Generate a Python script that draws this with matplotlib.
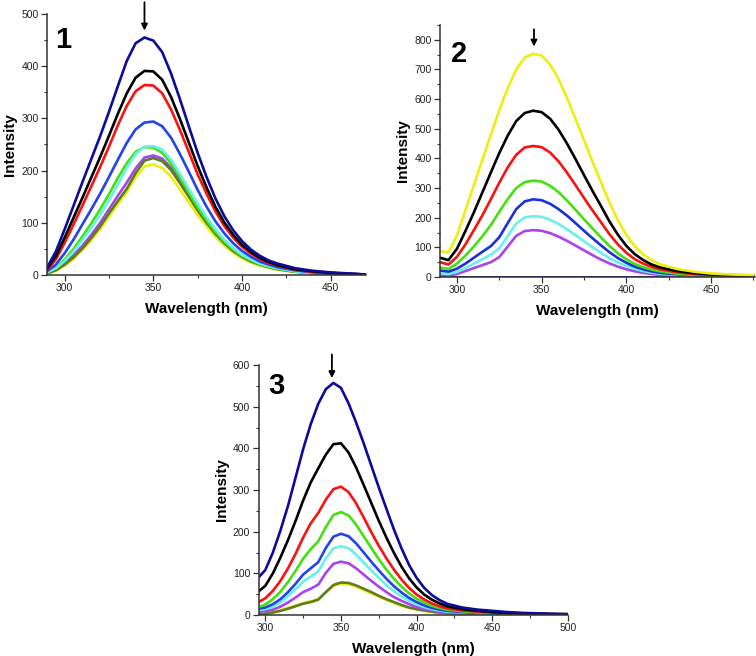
import matplotlib
matplotlib.use("Agg")
import matplotlib.pyplot as plt
from matplotlib.ticker import MultipleLocator

plt.rcParams['font.family'] = ['Liberation Sans', 'DejaVu Sans']

# ---------------- Panel 1 data ----------------
wl1 = [290, 295, 300, 305, 310, 315, 320, 325, 330, 335, 340, 345, 350, 355, 360,
       365, 370, 375, 380, 385, 390, 395, 400, 405, 410, 415, 420, 430, 440, 450, 460, 470]
p1_navy = [14, 45, 88, 133, 178, 222, 266, 313, 362, 410, 444, 455, 449, 427, 386,
           337, 285, 234, 188, 147, 113, 86, 65, 49, 37, 28, 22, 13, 8, 5, 3, 1]
p1_black = [12, 36, 72, 110, 148, 187, 226, 267, 309, 348, 378, 391, 390, 374, 341,
            299, 254, 209, 168, 131, 101, 77, 58, 44, 33, 25, 19, 11, 7, 4, 2, 1]
p1_red = [9, 30, 62, 97, 133, 170, 207, 246, 287, 324, 352, 364, 363, 348, 317,
          278, 236, 193, 156, 122, 94, 72, 54, 41, 31, 23, 18, 10, 6, 4, 2, 1]
p1_blue = [7, 20, 42, 68, 97, 126, 156, 188, 221, 253, 279, 292, 294, 285, 263,
           232, 198, 163, 131, 103, 80, 61, 46, 35, 26, 20, 15, 9, 5, 3, 2, 1]
p1_green = [5, 14, 30, 50, 74, 99, 126, 155, 186, 214, 236, 245, 244, 234, 214,
            187, 158, 130, 105, 83, 64, 49, 37, 28, 21, 16, 12, 7, 4, 3, 2, 1]
p1_cyan = [5, 13, 27, 45, 67, 90, 115, 143, 174, 205, 232, 246, 247, 240, 221,
           194, 165, 137, 111, 88, 68, 52, 39, 30, 22, 17, 13, 7, 4, 3, 2, 1]
p1_purple = [4, 11, 23, 38, 56, 77, 100, 126, 152, 177, 204, 225, 229, 223, 206,
             181, 154, 128, 104, 82, 64, 49, 37, 28, 21, 16, 12, 7, 4, 2, 1, 1]
p1_olive = [3, 9, 20, 34, 51, 71, 93, 118, 142, 165, 195, 219, 224, 218, 201,
            176, 150, 124, 100, 79, 61, 46, 35, 26, 20, 15, 11, 6, 4, 2, 1, 1]
p1_yellow = [2, 8, 18, 31, 48, 67, 88, 112, 136, 159, 187, 208, 212, 205, 188,
             164, 139, 115, 93, 73, 56, 43, 32, 24, 18, 14, 10, 6, 3, 2, 1, 1]

# ---------------- Panel 2 data ----------------
wl2 = [290, 295, 300, 305, 310, 315, 320, 325, 330, 335, 340, 345, 350, 355, 360,
       365, 370, 375, 380, 385, 390, 395, 400, 405, 410, 415, 420, 430, 440, 450, 460, 470, 475]
p2_yellow = [88, 82, 140, 225, 310, 395, 480, 562, 637, 700, 740, 753, 747, 717, 668,
             604, 534, 462, 390, 320, 252, 192, 142, 104, 76, 57, 43, 27, 18, 12, 9, 7, 6]
p2_black = [65, 57, 95, 155, 218, 285, 352, 418, 477, 526, 553, 561, 556, 534, 497,
            450, 398, 344, 291, 240, 188, 143, 105, 77, 57, 42, 32, 20, 13, 9, 7, 5, 5]
p2_red = [50, 42, 68, 110, 158, 208, 262, 318, 370, 412, 437, 442, 438, 420, 390,
          352, 310, 267, 225, 185, 145, 110, 82, 60, 45, 34, 26, 16, 10, 7, 5, 4, 4]
p2_green = [32, 27, 45, 72, 103, 137, 175, 220, 263, 300, 320, 325, 322, 308, 286,
            258, 227, 195, 164, 134, 105, 80, 60, 44, 33, 25, 19, 11, 7, 5, 4, 3, 3]
p2_blue = [22, 18, 28, 45, 65, 85, 104, 134, 182, 229, 255, 262, 259, 247, 229,
           207, 182, 156, 131, 107, 84, 64, 48, 35, 26, 19, 14, 9, 6, 4, 3, 2, 2]
p2_cyan = [13, 10, 17, 30, 45, 60, 75, 97, 138, 180, 201, 205, 203, 193, 179,
           161, 141, 121, 101, 82, 64, 49, 37, 28, 20, 15, 11, 7, 5, 3, 2, 2, 2]
p2_purple = [6, 4, 10, 20, 30, 40, 50, 67, 103, 139, 155, 158, 156, 148, 136,
             122, 106, 90, 74, 59, 46, 35, 26, 19, 14, 10, 7, 4, 3, 2, 1, 1, 1]
p2_navy = [0] * len(wl2)

# ---------------- Panel 3 data ----------------
wl3 = [295, 300, 305, 310, 315, 320, 325, 330, 335, 340, 345, 350, 355, 360, 365,
       370, 375, 380, 385, 390, 395, 400, 405, 410, 415, 420, 430, 440, 450, 460,
       470, 480, 490, 500]
p3_navy = [88, 108, 150, 203, 262, 330, 398, 458, 507, 542, 557, 545, 508, 462, 412,
           359, 306, 255, 205, 160, 120, 89, 65, 48, 36, 27, 18, 13, 10, 7, 5, 4, 3, 2]
p3_black = [55, 70, 100, 138, 180, 226, 275, 318, 352, 385, 410, 412, 390, 354, 312,
            269, 226, 186, 149, 116, 88, 66, 49, 37, 28, 21, 14, 10, 7, 5, 4, 3, 2, 2]
p3_red = [30, 40, 58, 82, 112, 147, 186, 220, 245, 277, 302, 308, 295, 268, 234,
          199, 166, 136, 109, 85, 65, 49, 37, 28, 21, 16, 11, 8, 6, 4, 3, 2, 2, 1]
p3_green = [18, 25, 38, 56, 79, 106, 135, 158, 177, 211, 240, 247, 239, 217, 189,
            161, 134, 109, 87, 68, 52, 39, 30, 22, 17, 13, 9, 6, 5, 3, 2, 2, 1, 1]
p3_blue = [15, 18, 26, 38, 55, 75, 97, 112, 127, 161, 188, 195, 189, 172, 150,
           128, 107, 87, 69, 54, 41, 31, 23, 17, 13, 10, 7, 5, 4, 3, 2, 1, 1, 1]
p3_cyan = [12, 14, 20, 30, 45, 62, 80, 92, 105, 136, 160, 165, 160, 145, 126,
           107, 89, 72, 57, 44, 34, 26, 19, 14, 11, 8, 6, 4, 3, 2, 2, 1, 1, 1]
p3_purple = [8, 9, 13, 20, 30, 42, 55, 63, 73, 101, 123, 128, 124, 112, 97,
             82, 68, 55, 43, 34, 26, 19, 14, 11, 8, 6, 4, 3, 2, 2, 1, 1, 1, 1]
p3_yellow = [3, 5, 8, 12, 17, 23, 29, 33, 38, 54, 70, 76, 74, 68, 60,
             52, 44, 36, 29, 22, 17, 13, 10, 7, 5, 4, 2, 1, 1, 1, 0, 0, 0, 0]
p3_olive = [2, 3, 6, 10, 15, 21, 27, 31, 37, 55, 72, 78, 77, 71, 63,
            55, 46, 38, 31, 24, 18, 14, 11, 8, 6, 5, 3, 2, 1, 1, 1, 0, 0, 0]

C = {
    'navy': '#0c0c9c', 'black': '#000000', 'red': '#ff1010', 'blue': '#2244ee',
    'green': '#44e010', 'cyan': '#66f2ea', 'purple': '#a844ee', 'olive': '#5c7e1c',
    'yellow': '#eeee10', 'blue2': '#1830e0',
}

fig = plt.figure(figsize=(7.56, 6.56), dpi=100)
W, H = 756.0, 656.0


def make_ax(l, r, t, b):
    return fig.add_axes([l / W, 1 - b / H, (r - l) / W, (b - t) / H])


def style(ax, xlim, ylim, xmaj, ymaj, xmin, ymin):
    ax.set_xlim(*xlim)
    ax.set_ylim(*ylim)
    ax.xaxis.set_major_locator(MultipleLocator(xmaj))
    ax.xaxis.set_minor_locator(MultipleLocator(xmin))
    ax.yaxis.set_major_locator(MultipleLocator(ymaj))
    ax.yaxis.set_minor_locator(MultipleLocator(ymin))
    for s in ('top', 'right'):
        ax.spines[s].set_visible(False)
    for s in ('left', 'bottom'):
        ax.spines[s].set_color('#333333')
        ax.spines[s].set_linewidth(1.1)
    ax.tick_params(which='major', direction='out', length=4, width=0.9,
                   colors='#333333', labelsize=7.5, labelcolor='#222222', pad=2)
    ax.tick_params(which='minor', direction='out', length=2.5, width=0.8, colors='#333333')
    ax.set_ylabel('Intensity', fontsize=11, fontweight='bold', labelpad=3)
    ax.set_xlabel('Wavelength (nm)', fontsize=11, fontweight='bold', labelpad=6)


lw = 1.9

# Panel 1
ax1 = make_ax(47, 366, 14, 275)
for ys, c in [(p1_yellow, 'yellow'), (p1_purple, 'purple'), (p1_olive, 'olive'),
              (p1_green, 'green'), (p1_cyan, 'cyan'), (p1_blue, 'blue'),
              (p1_red, 'red'), (p1_black, 'black'), (p1_navy, 'navy')]:
    ax1.plot(wl1, ys, color=C[c], lw=lw, solid_joinstyle='round')
style(ax1, (290, 470), (0, 500), 50, 100, 25, 50)
ax1.annotate('', xy=(345, 463), xytext=(345, 528),
             arrowprops=dict(arrowstyle='-|>', color='black', lw=1.3, mutation_scale=9),
             annotation_clip=False)
ax1.text(0.025, 0.955, '1', transform=ax1.transAxes, fontsize=21, fontweight='bold',
         va='top', ha='left')

# Panel 2
ax2 = make_ax(440, 755, 25, 277)
ax2.plot(wl2, p2_navy, color=C['navy'], lw=lw)
for ys, c in [(p2_purple, 'purple'), (p2_cyan, 'cyan'), (p2_blue, 'blue2'),
              (p2_green, 'green'), (p2_red, 'red'), (p2_black, 'black'),
              (p2_yellow, 'yellow')]:
    ax2.plot(wl2, ys, color=C[c], lw=lw, solid_joinstyle='round')
style(ax2, (290, 476), (0, 850), 50, 100, 25, 50)
ax2.annotate('', xy=(345.5, 768), xytext=(345.5, 845),
             arrowprops=dict(arrowstyle='-|>', color='black', lw=1.3, mutation_scale=9),
             annotation_clip=False)
ax2.text(0.035, 0.94, '2', transform=ax2.transAxes, fontsize=21, fontweight='bold',
         va='top', ha='left')

# Panel 3
ax3 = make_ax(258.5, 568, 365, 615)
for ys, c in [(p3_yellow, 'yellow'), (p3_olive, 'olive'), (p3_purple, 'purple'),
              (p3_cyan, 'cyan'), (p3_blue, 'blue'), (p3_green, 'green'),
              (p3_red, 'red'), (p3_black, 'black'), (p3_navy, 'navy')]:
    ax3.plot(wl3, ys, color=C[c], lw=lw, solid_joinstyle='round')
style(ax3, (295.5, 500), (0, 600), 50, 100, 25, 50)
ax3.annotate('', xy=(344, 562), xytext=(344, 632),
             arrowprops=dict(arrowstyle='-|>', color='black', lw=1.3, mutation_scale=9),
             annotation_clip=False)
ax3.text(0.03, 0.97, '3', transform=ax3.transAxes, fontsize=21, fontweight='bold',
         va='top', ha='left')

fig.savefig('out.png', dpi=100)
